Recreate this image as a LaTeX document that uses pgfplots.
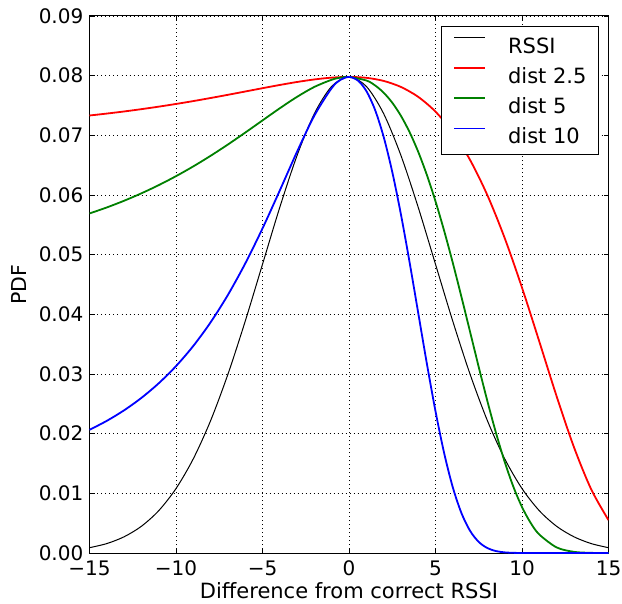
\documentclass[border=0pt]{standalone}
\usepackage{pgfplots}
\pgfplotsset{compat=1.18}
\usepackage{fontspec}
\setmainfont{DejaVu Sans}
\begin{document}
\begin{tikzpicture}
\begin{axis}[
  name=main,
  scale only axis, width=519pt, height=537pt,
  xmin=-15, xmax=15, ymin=0, ymax=0.09,
  scaled y ticks=false, scaled x ticks=false,
  xtick={-15,-10,-5,0,5,10,15},
  xticklabels={−15,−10,−5,0,5,10,15},
  ytick={0,0.01,0.02,0.03,0.04,0.05,0.06,0.07,0.08,0.09},
  yticklabels={0.00,0.01,0.02,0.03,0.04,0.05,0.06,0.07,0.08,0.09},
  tick align=inside, major tick length=5pt, tick pos=both,
  tick style={black, line width=0.6pt},
  grid=major,
  major grid style={black, dash pattern=on 1pt off 3pt, line width=0.6pt},
  axis line style={black, line width=1pt},
  ticklabel style={font=\fontsize{20}{24}\selectfont},
  xticklabel style={inner sep=0pt, yshift=-7.7pt},
  yticklabel style={inner sep=0pt, xshift=-6pt},
  xlabel={Difference from correct RSSI},
  ylabel={PDF},
  xlabel style={font=\fontsize{21}{25}\selectfont, at={(axis description cs:0.5,0)}, anchor=base, yshift=-45pt, inner sep=0pt},
  ylabel style={font=\fontsize{20.5}{25}\selectfont, at={(axis description cs:-0.135,0.5)}, anchor=center, inner sep=0pt},
  legend style={at={(rel axis cs:0.9817,0.9814)}, anchor=north east, draw=black, line width=1pt, fill=white,
    inner xsep=12pt, inner ysep=11pt, row sep=14pt, column sep=22pt,
    nodes={inner sep=0pt, text height=15.5pt, text depth=0pt, font=\fontsize{21}{25}\selectfont}},
  legend cell align=left,
  legend image code/.code={\draw[#1] (0pt,7.5pt) -- (31pt,7.5pt);},
]
\addplot[black, line width=1pt, smooth] coordinates {
(-15,0.00089) (-14,0.00158) (-13,0.00272) (-12,0.00448) (-11,0.00709) (-10,0.01080) (-9,0.01579) (-8,0.02218) (-7,0.02995) (-6,0.03884) (-5,0.04839) (-4,0.05794) (-3,0.06664) (-2,0.07365) (-1,0.07821) (0,0.07979)
(1,0.07821) (2,0.07365) (3,0.06664) (4,0.05794) (5,0.04839) (6,0.03884) (7,0.02995) (8,0.02218) (9,0.01579) (10,0.01080) (11,0.00709) (12,0.00448) (13,0.00272) (14,0.00158) (15,0.00089)};
\addlegendentry{RSSI}
\addplot[red, line width=1.8pt, smooth] coordinates {
(-15,0.073323) (-14,0.073647) (-13,0.074001) (-12,0.074387) (-11,0.074807) (-10,0.075259) (-9,0.075742) (-8,0.076256) (-7,0.076792) (-6,0.077345) (-5,0.077900) (-4,0.078441) (-3,0.078942) (-2,0.079367) (-1,0.079670) (0,0.079788)
(1,0.079640) (2,0.079122) (3,0.078109) (4,0.076448) (5,0.073970) (6,0.070496) (7,0.065862) (8,0.059958) (9,0.052776) (10,0.044476) (11,0.035437) (12,0.026273) (13,0.017761) (14,0.010671) (15,0.005515)};
\addlegendentry{dist 2.5}
\addplot[green!50!black, line width=1.8pt, smooth] coordinates {
(-15,0.056905) (-14,0.057915) (-13,0.059038) (-12,0.060281) (-11,0.061651) (-10,0.063156) (-9,0.064796) (-8,0.066569) (-7,0.068463) (-6,0.070454) (-5,0.072501) (-4,0.074536) (-3,0.076457) (-2,0.078118) (-1,0.079318) (-0.5,0.079663) (0,0.079788)
(1,0.079196) (1.5,0.078383) (2,0.077157) (2.5,0.075471) (3,0.073280) (3.5,0.070545) (4,0.067243) (4.5,0.063370) (5,0.058939) (5.5,0.053998) (6,0.048623) (6.5,0.042924) (7,0.037046) (7.5,0.031157) (8,0.025444) (8.5,0.020093) (9,0.015273) (9.5,0.011117) (10,0.007703) (10.5,0.005048) (11,0.003105) (12,0.000938) (13,0.000196) (14,0.000026) (15,0.000002)};
\addlegendentry{dist 5}
\addplot[blue, line width=1.8pt, smooth] coordinates {
(-15,0.020644) (-14,0.022150) (-13,0.023918) (-12,0.025996) (-11,0.028442) (-10,0.031321) (-9,0.034704) (-8,0.038660) (-7,0.043253) (-6,0.048509) (-5,0.054395) (-4,0.060763) (-3,0.067274) (-2,0.073316) (-1,0.077923) (-0.5,0.079290) (0,0.079788)
(0.5,0.079230) (1,0.077447) (1.5,0.074314) (2,0.069776) (2.5,0.063873) (3,0.056769) (3.5,0.048758) (4,0.040253) (4.5,0.031748) (5,0.023758) (5.5,0.016738) (6,0.011004) (6.5,0.006684) (7,0.003708) (7.5,0.001855) (8,0.000825) (8.5,0.000321) (9,0.000107) (9.5,0.000030) (10,0.000007) (11,0) (12,0) (13,0) (14,0) (15,0)};
\addlegendentry{dist 10}
\end{axis}
\path[use as bounding box] ([xshift=-89.5pt,yshift=-50pt]main.south west) rectangle ([xshift=13.5pt,yshift=16pt]main.north east);
\end{tikzpicture}
\end{document}
